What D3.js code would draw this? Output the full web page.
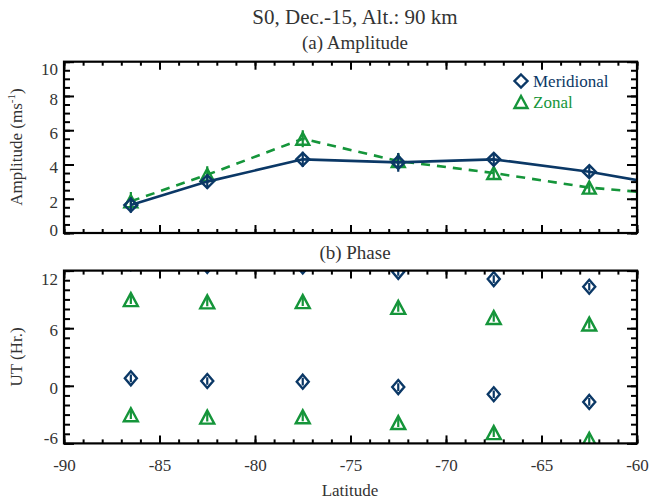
<!DOCTYPE html>
<html>
<head>
<meta charset="utf-8">
<script src="https://cdn.jsdelivr.net/npm/d3@7"></script>
<style>
  html, body { margin: 0; padding: 0; background: #fff; }
  svg { display: block; font-family: "Liberation Serif", "Times New Roman", serif; }
</style>
</head>
<body>
<svg id="chart" width="649" height="501"></svg>
<script>
// Latitude bins (deg); the last bin lies just past the plotted range
const latitudes = [-86.5, -82.5, -77.5, -72.5, -67.5, -62.5, -57.5];

// (a) Amplitude, m/s, with 1-sigma errors
const meridionalAmp    = [1.63, 3.00, 4.30, 4.12, 4.30, 3.58, 2.60];
const meridionalAmpErr = [0.45, 0.40, 0.45, 0.55, 0.35, 0.35, 0.35];
const zonalAmp         = [1.85, 3.40, 5.50, 4.20, 3.50, 2.65, 2.17];
const zonalAmpErr      = [0.55, 0.50, 0.50, 0.45, 0.35, 0.35, 0.35];

// (b) Phase, UT hours (12-h period, shown again one period later)
const phaseLatitudes    = [-86.5, -82.5, -77.5, -72.5, -67.5, -62.5];
const meridionalPhase    = [0.78, 0.50, 0.43, -0.13, -0.88, -1.68];
const meridionalPhaseErr = [0.40, 0.40, 0.40, 0.40, 0.40, 0.40];
const zonalPhase         = [-3.02, -3.26, -3.23, -3.83, -4.88, -5.57];
const zonalPhaseErr      = [0.45, 0.45, 0.45, 0.45, 0.45, 0.45];
const phasePeriod = 12;

// Axis ticks
const latTicks = [-90, -85, -80, -75, -70, -65, -60];
const ampTicks = [0, 2, 4, 6, 8, 10];
const phaseTicks = [-6, 0, 6, 12];

const COL_MER = "#0b3866";
const COL_ZON = "#15953a";
const TEXT_COL = "#333";

// integer labels with a plain hyphen for negatives
const intLabel = d => String(Math.round(d));

const svg = d3.select("#chart");
const left = 64, right = 637;

const x = d3.scaleLinear().domain([-90, -60]).range([left, right]);
const yAmp = d3.scaleLinear().domain([0, 10]).range([233, 61.7]);
const yPh = d3.scaleLinear().domain([-6, 12]).range([443.4, 270.6]);

// Titles
svg.append("text").attr("x", 355).attr("y", 24).attr("text-anchor", "middle")
  .attr("font-size", 21).attr("fill", TEXT_COL).text("S0, Dec.-15, Alt.: 90 km");
svg.append("text").attr("x", 355).attr("y", 49).attr("text-anchor", "middle")
  .attr("font-size", 19).attr("fill", TEXT_COL).text("(a) Amplitude");
svg.append("text").attr("x", 355).attr("y", 259).attr("text-anchor", "middle")
  .attr("font-size", 19).attr("fill", TEXT_COL).text("(b) Phase");

function minorValues(domain, step) {
  const out = [];
  const n = Math.round((domain[1] - domain[0]) / step);
  for (let i = 0; i <= n; i++) out.push(+(domain[0] + i * step).toFixed(6));
  return out;
}

function drawFrame(g, y, yTicks, yMinorStep, showXLabels, labelShift) {
  const top = y.range()[1], bottom = y.range()[0];
  const xMinor = minorValues(x.domain(), 1);
  const yMinor = minorValues(y.domain(), yMinorStep);

  // minor ticks, all four sides, pointing inward
  g.append("g").attr("transform", `translate(0,${bottom})`)
    .call(d3.axisBottom(x).tickValues(xMinor).tickSize(-4).tickFormat(""));
  g.append("g").attr("transform", `translate(0,${top})`)
    .call(d3.axisTop(x).tickValues(xMinor).tickSize(-4).tickFormat(""));
  g.append("g").attr("transform", `translate(${left},0)`)
    .call(d3.axisLeft(y).tickValues(yMinor).tickSize(-6).tickFormat(""));
  g.append("g").attr("transform", `translate(${right},0)`)
    .call(d3.axisRight(y).tickValues(yMinor).tickSize(-6).tickFormat(""));

  // major ticks
  g.append("g").attr("transform", `translate(0,${bottom})`)
    .call(d3.axisBottom(x).tickValues(latTicks).tickSize(-8).tickPadding(16)
      .tickFormat(showXLabels ? intLabel : ""));
  g.append("g").attr("transform", `translate(0,${top})`)
    .call(d3.axisTop(x).tickValues(latTicks).tickSize(-8).tickFormat(""));
  const yl = g.append("g").attr("transform", `translate(${left},0)`)
    .call(d3.axisLeft(y).tickValues(yTicks).tickSize(-10).tickPadding(6).tickFormat(intLabel));
  g.append("g").attr("transform", `translate(${right},0)`)
    .call(d3.axisRight(y).tickValues(yTicks).tickSize(-10).tickFormat(""));

  g.selectAll(".domain").remove();
  g.selectAll(".tick line").attr("stroke", "#000").attr("stroke-width", 2);
  g.selectAll(".tick text").attr("font-size", 17).attr("fill", TEXT_COL)
    .attr("font-family", "Liberation Serif, serif");
  yl.selectAll(".tick text").attr("dy", (d, i) => {
    const last = yTicks.length - 1;
    const s = i === 0 ? labelShift[0] : i === last ? labelShift[2] : labelShift[1];
    return `${0.32 + s / 17}em`;
  });

  g.append("rect").attr("x", left).attr("y", top)
    .attr("width", right - left).attr("height", bottom - top)
    .attr("fill", "none").attr("stroke", "#000").attr("stroke-width", 2.2);
}

function diamondPath(w, h) {
  return `M0,${-h}L${w},0L0,${h}L${-w},0Z`;
}
function trianglePath(w, h) {
  return `M${-w},${h}L0,${-h}L${w},${h}Z`;
}

function addClip(id, y) {
  svg.append("clipPath").attr("id", id).append("rect")
    .attr("x", left).attr("y", y.range()[1])
    .attr("width", right - left).attr("height", y.range()[0] - y.range()[1]);
}
addClip("clipAmp", yAmp);
addClip("clipPh", yPh);

function drawSeries(g, xs, ys, errs, y, color, marker, opts) {
  const pts = xs.map((lx, i) => ({ lat: lx, v: ys[i], e: errs[i] }));
  if (opts.line) {
    g.append("path").datum(pts)
      .attr("d", d3.line().x(d => x(d.lat)).y(d => y(d.v)))
      .attr("fill", "none").attr("stroke", color).attr("stroke-width", 2.6)
      .attr("stroke-dasharray", opts.dash || null);
  }
  g.selectAll(null).data(pts).join("line")
    .attr("x1", d => x(d.lat)).attr("x2", d => x(d.lat))
    .attr("y1", d => y(d.v - d.e)).attr("y2", d => y(d.v + d.e))
    .attr("stroke", color).attr("stroke-width", 2.2);
  g.selectAll(null).data(pts).join("path")
    .attr("transform", d => `translate(${x(d.lat)},${y(d.v)})`)
    .attr("d", marker)
    .attr("fill", "none").attr("stroke", color).attr("stroke-width", 2.4);
}

// (a) Amplitude panel
const gA = svg.append("g");
const gAMarks = gA.append("g").attr("clip-path", "url(#clipAmp)");
drawSeries(gAMarks, latitudes, zonalAmp, zonalAmpErr, yAmp, COL_ZON,
  trianglePath(6.5, 6), { line: true, dash: "9,7" });
drawSeries(gAMarks, latitudes, meridionalAmp, meridionalAmpErr, yAmp, COL_MER,
  diamondPath(6.5, 6.5), { line: true });
drawFrame(gA, yAmp, ampTicks, 0.5, false, [-3, 3, 7]);

// Legend
const leg = gA.append("g");
leg.append("path").attr("transform", "translate(521,81)").attr("d", diamondPath(6.5, 6.5))
  .attr("fill", "none").attr("stroke", COL_MER).attr("stroke-width", 2.4);
leg.append("text").attr("x", 533).attr("y", 87).attr("font-size", 17)
  .attr("fill", COL_MER).text("Meridional");
leg.append("path").attr("transform", "translate(521,102)").attr("d", trianglePath(6.5, 6))
  .attr("fill", "none").attr("stroke", COL_ZON).attr("stroke-width", 2.4);
leg.append("text").attr("x", 533).attr("y", 108).attr("font-size", 17)
  .attr("fill", COL_ZON).text("Zonal");

// (b) Phase panel
const gP = svg.append("g");
const gPMarks = gP.append("g").attr("clip-path", "url(#clipPh)");
[0, phasePeriod].forEach(shift => {
  drawSeries(gPMarks, phaseLatitudes, zonalPhase.map(v => v + shift), zonalPhaseErr, yPh, COL_ZON,
    trianglePath(7, 6.5), { line: false });
  drawSeries(gPMarks, phaseLatitudes, meridionalPhase.map(v => v + shift), meridionalPhaseErr, yPh, COL_MER,
    diamondPath(6, 7), { line: false });
});
drawFrame(gP, yPh, phaseTicks, 1, true, [-5, 2, 8]);

// Axis titles
const ampTitle = svg.append("text").attr("transform", "translate(22,147) rotate(-90)")
  .attr("text-anchor", "middle").attr("font-size", 17).attr("fill", TEXT_COL);
ampTitle.append("tspan").text("Amplitude (ms");
ampTitle.append("tspan").attr("font-size", 11).attr("dy", -7).text("-1");
ampTitle.append("tspan").attr("dy", 7).text(")");
svg.append("text").attr("transform", "translate(22,357) rotate(-90)")
  .attr("text-anchor", "middle").attr("font-size", 17).attr("fill", TEXT_COL)
  .text("UT (Hr.)");
svg.append("text").attr("x", 350).attr("y", 496).attr("text-anchor", "middle")
  .attr("font-size", 17).attr("fill", TEXT_COL).text("Latitude");
</script>
</body>
</html>
